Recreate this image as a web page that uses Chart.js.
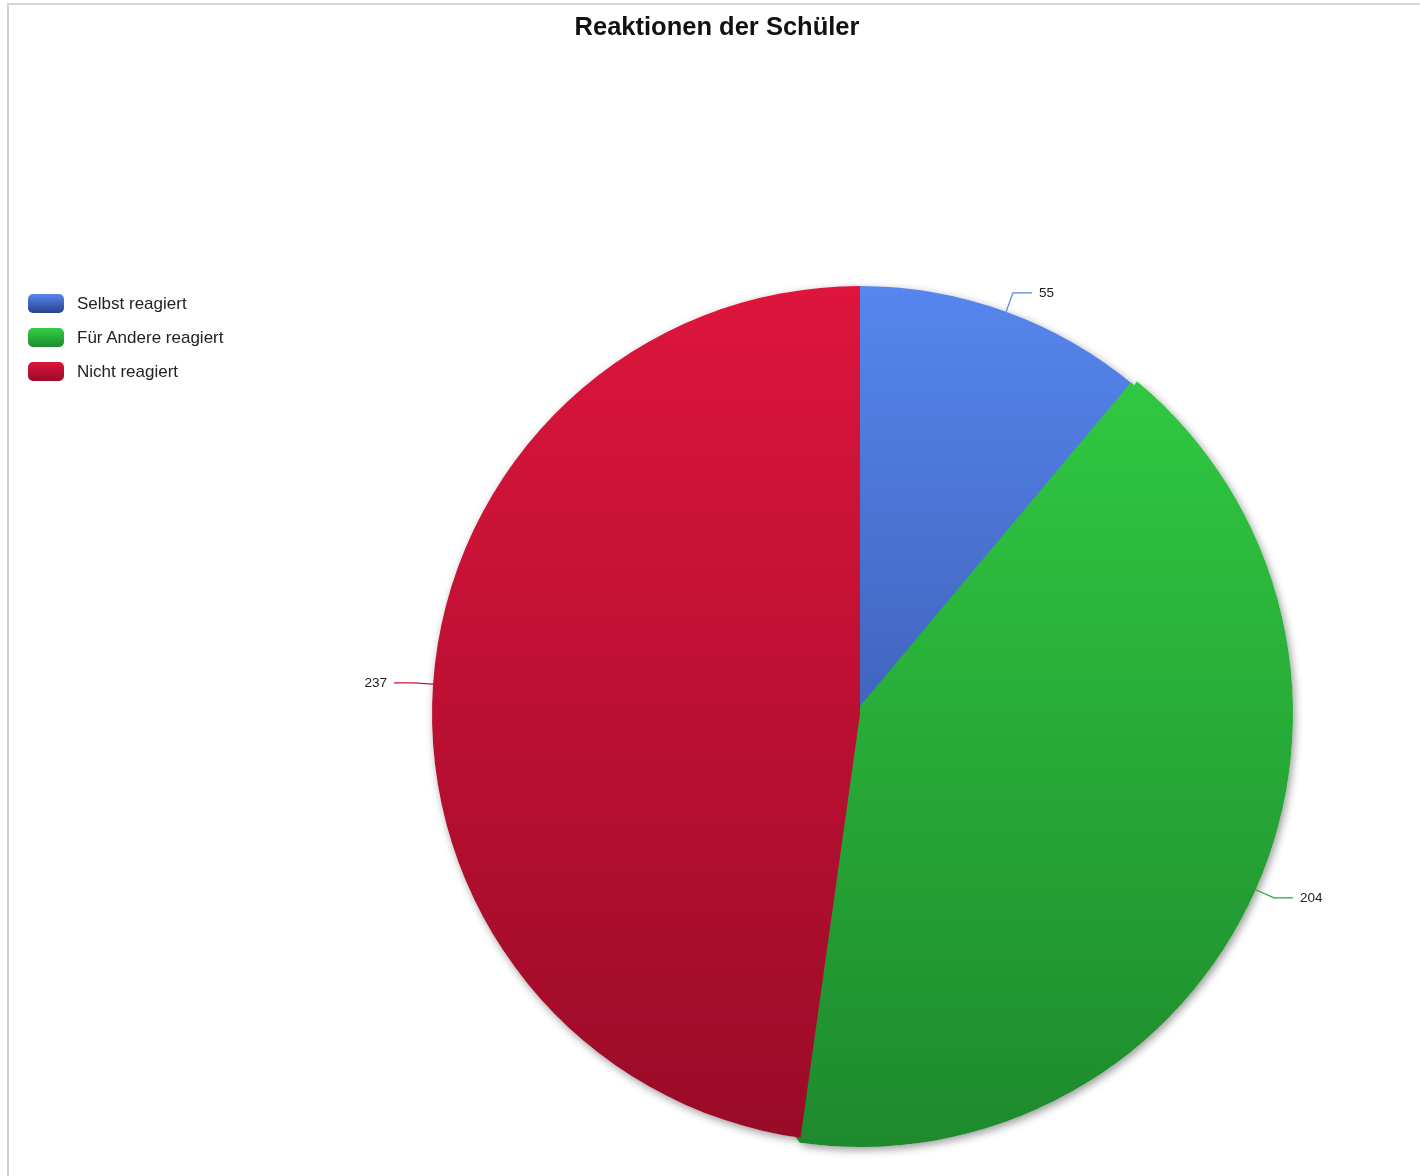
<!DOCTYPE html>
<html>
<head>
<meta charset="utf-8">
<script src="https://cdn.jsdelivr.net/npm/chart.js@4"></script>
<style>
  body { margin: 0; background: #fff; font-family: "Liberation Sans", Arial, sans-serif; }
  #frame { position: absolute; left: 7px; top: 3px; width: 1413px; height: 1173px;
           border-left: 2px solid #d2d2d2; border-top: 2px solid #d6d6d6; }
  #title { position: absolute; left: 0; width: 1434px; top: 12px; text-align: center;
           font-weight: bold; font-size: 25.5px; color: #111; }
  #legend { position: absolute; left: 28px; top: 294px; }
  .item { height: 34px; display: flex; align-items: flex-start; }
  .box { width: 36px; height: 19px; border-radius: 5px; margin-right: 13px; }
  .label { font-size: 17px; color: #222; line-height: 19px; }
  canvas { position: absolute; left: 0; top: 0; }
</style>
</head>
<body>
<div id="frame"></div>
<canvas id="chart" width="1420" height="1176"></canvas>
<div id="title">Reaktionen der Schüler</div>
<div id="legend"></div>
<script>
const categories = ["Selbst reagiert", "Für Andere reagiert", "Nicht reagiert"];
const values = [55, 204, 237];

// top / bottom colours of each slice gradient
const topColors = ["#5686ee", "#32d044", "#de153d"];
const bottomColors = ["#2a438e", "#1e8a2d", "#990b27"];
const lineColors = ["#5a82e0", "#2aa63a", "#c8143a"];
const growth = [0, 10, 0]; // green slice drawn a bit larger, like the original

const legend = document.getElementById("legend");
categories.forEach((name, i) => {
  const item = document.createElement("div");
  item.className = "item";
  const box = document.createElement("div");
  box.className = "box";
  box.style.background = `linear-gradient(${topColors[i]}, ${bottomColors[i]})`;
  const label = document.createElement("span");
  label.className = "label";
  label.textContent = name;
  item.appendChild(box);
  item.appendChild(label);
  legend.appendChild(item);
});

// soft drop shadow under the pie outline only
const shadowPlugin = {
  id: "shadow",
  beforeDatasetsDraw(chart) {
    const ctx = chart.ctx;
    ctx.save();
    ctx.shadowColor = "rgba(0,0,0,0.4)";
    ctx.shadowBlur = 8;
    ctx.shadowOffsetX = 2;
    ctx.shadowOffsetY = 3;
    ctx.fillStyle = "#fff";
    chart.getDatasetMeta(0).data.forEach((arc, i) => {
      const p = arc.getProps(["x", "y", "startAngle", "endAngle", "outerRadius"], true);
      ctx.beginPath();
      ctx.moveTo(p.x, p.y);
      ctx.arc(p.x, p.y, p.outerRadius + growth[i] / 2, p.startAngle, p.endAngle);
      ctx.closePath();
      ctx.fill();
    });
    ctx.restore();
  }
};

const leaderPlugin = {
  id: "leaders",
  afterDatasetsDraw(chart) {
    const ctx = chart.ctx;
    const arcs = chart.getDatasetMeta(0).data;
    ctx.save();
    arcs.forEach((arc, i) => {
      const p = arc.getProps(["x", "y", "startAngle", "endAngle", "outerRadius"], true);
      const mid = (p.startAngle + p.endAngle) / 2;
      const r0 = p.outerRadius + growth[i] / 2;
      const r1 = r0 + 20;
      const x0 = p.x + Math.cos(mid) * r0, y0 = p.y + Math.sin(mid) * r0;
      const x1 = p.x + Math.cos(mid) * r1, y1 = p.y + Math.sin(mid) * r1;
      const dir = Math.cos(mid) >= 0 ? 1 : -1;
      const x2 = x1 + dir * 19;
      ctx.strokeStyle = lineColors[i];
      ctx.lineWidth = 1.2;
      ctx.beginPath();
      ctx.moveTo(x0, y0);
      ctx.lineTo(x1, y1);
      ctx.lineTo(x2, y1);
      ctx.stroke();
      ctx.fillStyle = "#222";
      ctx.font = "13.5px 'Liberation Sans', Arial, sans-serif";
      ctx.textBaseline = "middle";
      ctx.textAlign = dir > 0 ? "left" : "right";
      ctx.fillText(String(values[i]), x2 + dir * 7, y1);
    });
    ctx.restore();
  }
};

const sliceFill = (c) => {
  const area = c.chart.chartArea;
  const i = c.dataIndex;
  if (!area) return topColors[i];
  const g = c.chart.ctx.createLinearGradient(0, area.top + 5, 0, area.bottom - 5);
  g.addColorStop(0, topColors[i]);
  g.addColorStop(1, bottomColors[i]);
  return g;
};

new Chart(document.getElementById("chart"), {
  type: "pie",
  data: {
    labels: categories,
    datasets: [{
      data: values,
      borderWidth: growth,
      borderAlign: "center",
      borderJoinStyle: "bevel",
      backgroundColor: sliceFill,
      borderColor: sliceFill
    }]
  },
  options: {
    responsive: false,
    animation: false,
    layout: { padding: { left: 427, right: 127, top: 281, bottom: 29 } },
    plugins: {
      legend: { display: false },
      title: { display: false },
      tooltip: { enabled: false }
    }
  },
  plugins: [shadowPlugin, leaderPlugin]
});
</script>
</body>
</html>
